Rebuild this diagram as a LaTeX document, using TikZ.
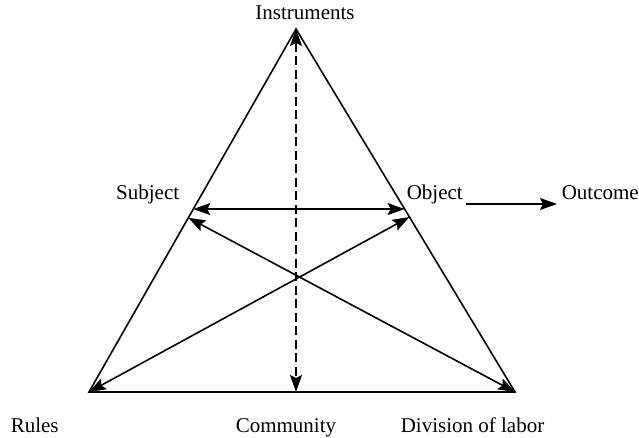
\documentclass[tikz,border=0pt]{standalone}
\usepackage{fontspec}
\setmainfont{Liberation Serif}
\usetikzlibrary{arrows.meta,calc}
\begin{document}
\begin{tikzpicture}[x=1pt,y=-1pt,line width=1.6pt,
  lbl/.style={inner sep=0pt,font=\fontsize{21}{25}\selectfont},
  onearr/.style={-{Stealth[length=17pt,width=12pt,inset=3pt]}},
  twoarr/.style={{Stealth[length=17pt,width=12pt,inset=3pt]}-{Stealth[length=17pt,width=12pt,inset=3pt]}},
  dasharr/.style={twoarr,dash pattern=on 9pt off 4.5pt}]
\useasboundingbox (0,0) rectangle (639,438);
\coordinate (A) at (296,29);
\coordinate (L) at (89,392);
\coordinate (R) at (515,392);
\coordinate (B) at (296,392);
\coordinate (S1) at ($(A)!0.496!(L)$);
\coordinate (O1) at ($(A)!0.496!(R)$);
\coordinate (S2) at ($(A)!0.520!(L)$);
\coordinate (O2) at ($(A)!0.518!(R)$);
\draw (A) -- (L) -- (R) -- cycle;
\draw[dasharr] (A) -- (B);
\draw[twoarr] (S1) -- (O1);
\draw[twoarr] (L) -- (O2);
\draw[twoarr] (R) -- (S2);
\node[lbl,anchor=base] (instr) at (305,20) {Instruments};
\node[lbl,anchor=base east] (subj) at (180,200) {Subject};
\node[lbl,anchor=base west] (obj) at (406,200) {Object};
\node[lbl,anchor=base west] (out) at (561,200) {Outcome};
\node[lbl,anchor=base west] (rules) at (10,432) {Rules};
\node[lbl,anchor=base west] (comm) at (235,432) {Community};
\node[lbl,anchor=base west] (div) at (400,432) {Division of labor};
\draw[onearr] ([yshift=-4pt]obj.base east) ++(2,0) coordinate (o1) -- ([xshift=-4pt]o1 -| out.west);
\end{tikzpicture}
\end{document}
